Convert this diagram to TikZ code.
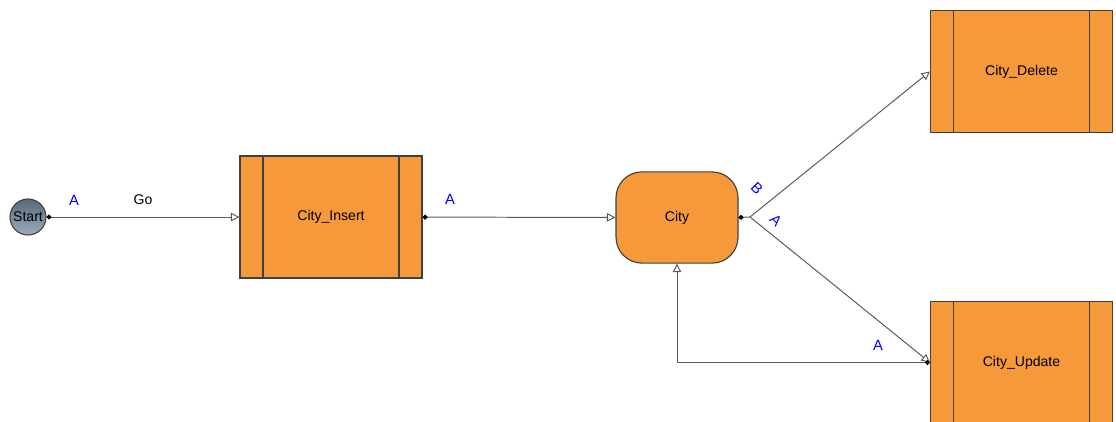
\documentclass[tikz,border=0pt]{standalone}
\usepackage{fontspec}
\setmainfont{Liberation Sans}
\usetikzlibrary{arrows.meta,shapes.geometric}

\definecolor{boxorange}{HTML}{F5993A}
\definecolor{boxline}{HTML}{404040}
\definecolor{edgegray}{HTML}{5A5A5A}
\definecolor{startdark}{HTML}{56687A}
\definecolor{startlight}{HTML}{9CADBE}

\tikzset{
    subproc/.style={draw=boxline, fill=boxorange, line width=0.8pt,
        minimum width=4.55cm, minimum height=3.05cm, inner sep=0pt,
        path picture={
            \draw[boxline, line width=1.2pt]
                ([xshift=0.575cm]path picture bounding box.north west) --
                ([xshift=0.575cm]path picture bounding box.south west);
            \draw[boxline, line width=1.2pt]
                ([xshift=-0.575cm]path picture bounding box.north east) --
                ([xshift=-0.575cm]path picture bounding box.south east);
        }},
    statebox/.style={draw=boxline, fill=boxorange, line width=0.8pt,
        rounded corners=0.65cm, minimum width=3.05cm, minimum height=2.28cm},
    startnode/.style={circle, draw=boxline, line width=0.8pt,
        top color=startdark, bottom color=startlight,
        minimum size=0.9cm, inner sep=0pt},
    flow/.style={draw=edgegray, line width=0.7pt,
        {Circle[length=3.5pt,black]}-{Triangle[open,length=6pt,width=6pt]}},
    tolabel/.style={text=blue, font=\fontsize{10.5}{12}\selectfont},
}

\begin{document}
\begin{tikzpicture}[x=0.025cm, y=-0.025cm, font=\fontsize{10}{12}\selectfont]
    \useasboundingbox (0,0) rectangle (1116,421);

    % nodes
    \node[startnode] (start) at (28,217) {Start};
    \node[subproc] (insert) at (331,217) {City\_Insert};
    \node[statebox] (city) at (677,217.5) {City};
    \node[subproc] (delete) at (1021.5,71.5) {City\_Delete};
    \node[subproc] (update) at (1021.5,362.5) {City\_Update};

    \coordinate (fork) at (750,217);
    \coordinate (loop) at (677,362.5);

    % edges
    \draw[flow] (start) -- (insert);
    \node[tolabel] (lstart) at (74,200) {A};
    \node (lgo) at (143,200) {Go};

    \draw[flow] (insert) -- (city);
    \node[tolabel] (linsert) at (450,199) {A};

    \draw[draw=edgegray, line width=0.7pt, {Circle[length=3.5pt,black]}-]
        (city.east) -- (fork);
    \draw[draw=edgegray, line width=0.7pt, -{Triangle[open,length=6pt,width=6pt]}]
        (fork) -- (delete.west);
    \draw[draw=edgegray, line width=0.7pt, -{Triangle[open,length=6pt,width=6pt]}]
        (fork) -- (update.west);
    \node[tolabel, rotate=-45] (lb) at (757,188) {B};
    \node[tolabel, rotate=-45] (la) at (776,220) {A};

    \draw[flow] (update.west) -- (loop) -- (city.south);
    \node[tolabel] (lupdate) at (878,345) {A};
\end{tikzpicture}
\end{document}
